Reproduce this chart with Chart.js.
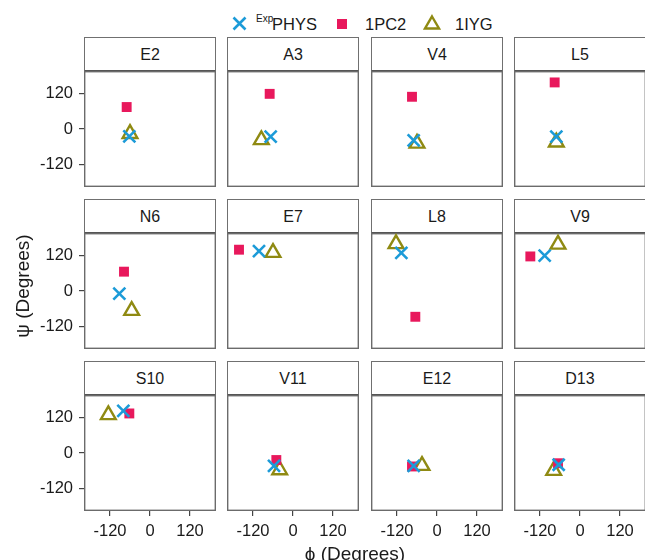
<!DOCTYPE html>
<html>
<head>
<meta charset="utf-8">
<script src="https://cdn.jsdelivr.net/npm/chart.js@4.4.1/dist/chart.umd.min.js"></script>
<style>
  body { margin: 0; background: #fff; font-family: "Liberation Sans", Arial, sans-serif; }
  #fig { position: relative; width: 645px; height: 560px; overflow: hidden; background: #fff; }
  .strip { position: absolute; box-sizing: border-box; border: 1.3px solid #707070; border-bottom: 2px solid #555;
           text-align: center; font-size: 16px; color: #1a1a1a; background: #fff; }
  .cv { position: absolute; }
  .lab { position: absolute; font-size: 16.5px; line-height: 20px; color: #1a1a1a; white-space: nowrap; }
  .sup { position: absolute; font-size: 10px; line-height: 12px; color: #1a1a1a; white-space: nowrap; }
  .ttl { position: absolute; font-size: 19px; line-height: 22px; color: #1a1a1a; white-space: nowrap; text-align: center; }
</style>
</head>
<body>
<div id="fig"></div>
<script>
// facet labels
const residues = ['E2', 'A3', 'V4', 'L5', 'N6', 'E7', 'L8', 'V9', 'S10', 'V11', 'E12', 'D13'];

// phi / psi per residue, in degrees
const physPhi = [-62, -67, -70, -71, -92, -102, -107, -106, -80, -57, -70, -64];
const physPsi = [-25, -26, -39, -26, -9, 136, 130, 121, 144, -44, -44, -40];
const pc2Phi = [-70, -70, -75, -76, -78, -162, -65, -149, -62, -50, -75, -66];
const pc2Psi = [75, 120, 110, 159, 66, 141, -88, 118, 135, -24, -46, -35];
const iygPhi = [-60, -95, -60, -71, -55, -60, -123, -66, -125, -40, -45, -79];
const iygPsi = [-16, -37, -49, -45, -67, 131, 161, 159, 130, -58, -43, -60];

const tickVals = [-120, 0, 120];

const blue = '#1c9bd8';
const pink = '#e8185c';
const olive = '#8f8a12';

const colLeft = [84, 227, 371, 514];
const rowTop = [37, 199, 361];
const stripH = 34, plotW = 132, plotH = 116;
const yAxisW = 60, xAxisH = 34;

const fig = document.getElementById('fig');

const panelBorder = {
  id: 'panelBorder',
  beforeDatasetsDraw(chart) {
    const a = chart.chartArea;
    const ctx = chart.ctx;
    ctx.save();
    ctx.strokeStyle = '#6b6b6b';
    ctx.lineWidth = 1.4;
    ctx.strokeRect(a.left + 0.7, a.top + 0.7, a.width - 1.4, a.height - 1.4);
    ctx.restore();
  }
};

function tickFont() {
  return { family: '"Liberation Sans", Arial, sans-serif', size: 16.5 };
}

residues.forEach(function (name, i) {
  const r = Math.floor(i / 4), c = i % 4;

  const strip = document.createElement('div');
  strip.className = 'strip';
  strip.style.left = colLeft[c] + 'px';
  strip.style.top = rowTop[r] + 'px';
  strip.style.width = plotW + 'px';
  strip.style.height = (stripH + 1) + 'px';
  strip.style.lineHeight = (stripH - 1) + 'px';
  strip.textContent = name;
  fig.appendChild(strip);

  const showY = c === 0, showX = r === 2;
  const w = plotW + (showY ? yAxisW : 0);
  const h = plotH + (showX ? xAxisH : 0);
  const canvas = document.createElement('canvas');
  canvas.className = 'cv';
  canvas.width = w;
  canvas.height = h;
  canvas.style.width = w + 'px';
  canvas.style.height = h + 'px';
  canvas.style.left = (colLeft[c] - (showY ? yAxisW : 0)) + 'px';
  canvas.style.top = (rowTop[r] + stripH) + 'px';
  fig.appendChild(canvas);

  new Chart(canvas, {
    type: 'scatter',
    data: {
      datasets: [{
        label: 'ExpPHYS',
        data: [{ x: physPhi[i], y: physPsi[i] }],
        pointStyle: 'crossRot',
        pointRadius: 8.5,
        pointBorderColor: blue,
        pointBorderWidth: 2.6,
        pointBackgroundColor: 'rgba(0,0,0,0)',
        clip: false
      }, {
        label: '1PC2',
        data: [{ x: pc2Phi[i], y: pc2Psi[i] }],
        pointStyle: 'rect',
        pointRadius: 7,
        pointBorderColor: pink,
        pointBorderWidth: 0,
        pointBackgroundColor: pink,
        clip: false
      }, {
        label: '1IYG',
        data: [{ x: iygPhi[i], y: iygPsi[i] }],
        pointStyle: 'triangle',
        pointRadius: 8.5,
        pointBorderColor: olive,
        pointBorderWidth: 2.4,
        pointBackgroundColor: 'rgba(0,0,0,0)',
        clip: false
      }]
    },
    options: {
      responsive: false,
      animation: false,
      events: [],
      layout: { padding: 0, autoPadding: false },
      plugins: { legend: { display: false }, tooltip: { enabled: false } },
      scales: {
        x: {
          type: 'linear', min: -198, max: 198, display: showX,
          afterBuildTicks: function (s) { s.ticks = tickVals.map(v => ({ value: v })); },
          afterFit: function (s) {
            if (showX) s.height = xAxisH;
            s.paddingLeft = 0; s.paddingRight = 0;
          },
          grid: { drawOnChartArea: false, drawTicks: true, tickLength: 5, color: '#444', lineWidth: 1.2 },
          border: { display: false },
          ticks: { font: tickFont(), color: '#1a1a1a', padding: 6, maxRotation: 0 }
        },
        y: {
          type: 'linear', min: -198, max: 198, display: showY,
          afterBuildTicks: function (s) { s.ticks = tickVals.map(v => ({ value: v })); },
          afterFit: function (s) {
            if (showY) s.width = yAxisW;
            s.paddingTop = 0; s.paddingBottom = 0;
          },
          grid: { drawOnChartArea: false, drawTicks: true, tickLength: 5, color: '#444', lineWidth: 1.2 },
          border: { display: false },
          ticks: { font: tickFont(), color: '#1a1a1a', padding: 6 }
        }
      }
    },
    plugins: [panelBorder]
  });
});

// legend
function addHtml(html) { fig.insertAdjacentHTML('beforeend', html); }
addHtml('<svg style="position:absolute;left:231px;top:15px" width="17" height="17">' +
  '<path d="M2.5 2.5 L14.5 14.5 M14.5 2.5 L2.5 14.5" stroke="' + blue + '" stroke-width="2.6" fill="none"/></svg>');
addHtml('<div class="sup" style="left:256px;top:13px">Exp</div>');
addHtml('<div class="lab" style="left:272px;top:14px">PHYS</div>');
addHtml('<svg style="position:absolute;left:337px;top:19px" width="10" height="10">' +
  '<rect x="0" y="0" width="10" height="10" fill="' + pink + '"/></svg>');
addHtml('<div class="lab" style="left:365px;top:14px">1PC2</div>');
addHtml('<svg style="position:absolute;left:423px;top:14px" width="18" height="18">' +
  '<path d="M9 2.5 L16 14.5 L2 14.5 Z" stroke="' + olive + '" stroke-width="2.4" fill="none"/></svg>');
addHtml('<div class="lab" style="left:455px;top:14px">1IYG</div>');

// axis titles
addHtml('<div class="ttl" style="left:255px;top:543px;width:200px">\u03D5 (Degrees)</div>');
addHtml('<div class="ttl" style="left:-77px;top:275px;width:200px;transform:rotate(-90deg)">\u03C8 (Degrees)</div>');
</script>
</body>
</html>
